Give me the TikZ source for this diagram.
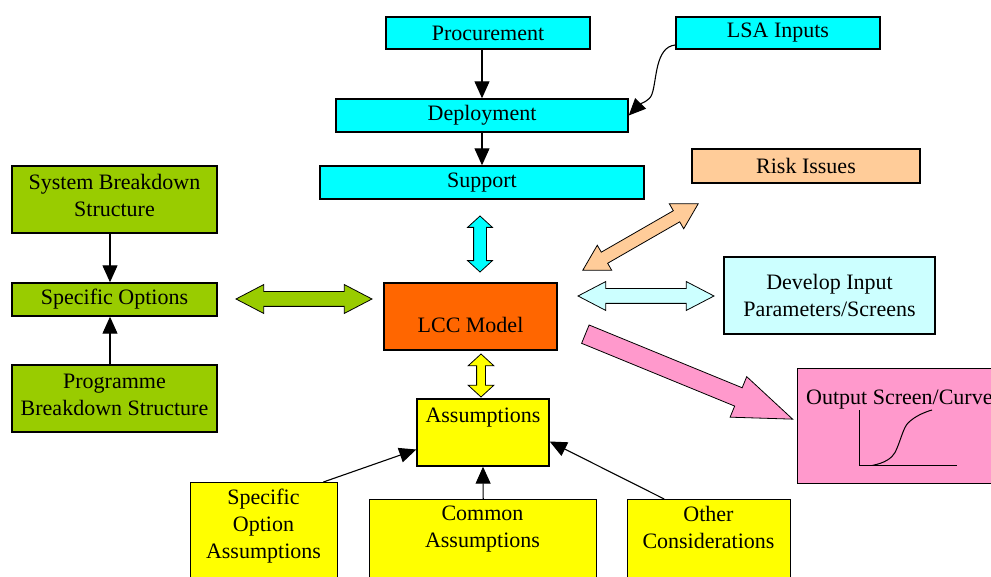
\documentclass[tikz,border=0pt]{standalone}
\usepackage{fontspec}
\setmainfont{Liberation Serif}
\usetikzlibrary{arrows.meta}
\usetikzlibrary{shapes.arrows}

\definecolor{aqua}{HTML}{00FFFF}
\definecolor{paleaqua}{HTML}{CCFFFF}
\definecolor{leaf}{HTML}{99CC00}
\definecolor{lemon}{HTML}{FFFF00}
\definecolor{peach}{HTML}{FFCC99}
\definecolor{rust}{HTML}{FF6600}
\definecolor{rose}{HTML}{FF99CC}

\begin{document}
\begin{tikzpicture}[x=1pt, y=-1pt,
            >={Triangle[length=17pt,width=15pt]},
            box/.style = {draw,line width=1.4pt,inner sep=0pt,align=center,
                font=\fontsize{22}{27}\selectfont},
            txt/.style = {inner sep=0pt,align=center,
                font=\fontsize{22}{27}\selectfont},
            link/.style = {->,line width=1.1pt},
            fatboth/.style = {double arrow,draw,line width=0.8pt,inner xsep=0pt,
                double arrow head indent=0pt},
            fatone/.style = {single arrow,draw,line width=0.8pt,inner xsep=0pt,
                single arrow head indent=0pt}]
            \useasboundingbox (0,0) rectangle (991,577);
            \node[box, fill=aqua, minimum width=204, minimum height=32] (proc) at (488,33) {Procurement};
            \node[box, fill=aqua, minimum width=204, minimum height=32] (lsa) at (778,33) {LSA Inputs};
            \node[box, fill=aqua, minimum width=292, minimum height=33] (dep) at (482,115.5) {Deployment};
            \node[box, fill=aqua, minimum width=324, minimum height=33] (sup) at (482,182.5) {Support};
            \node[box, fill=peach, minimum width=228, minimum height=34] (risk) at (806,166) {Risk Issues};
            \node[box, fill=leaf, minimum width=205, minimum height=67] (sbs) at (114.5,199.5) {};
            \node[txt] (sbstxt) at (114.5,195.5) {System Breakdown\\Structure};
            \node[box, fill=leaf, minimum width=205, minimum height=33] (spo) at (114.5,299.5) {Specific Options};
            \node[box, fill=leaf, minimum width=205, minimum height=67] (pbs) at (114.5,398.5) {};
            \node[txt] (pbstxt) at (114.5,394.5) {Programme\\Breakdown Structure};
            \node[box, fill=rust, minimum width=173, text height=50, text depth=17] (lcc) at (470.5,316.5) {LCC Model};
            \node[box, fill=paleaqua, minimum width=211, minimum height=77] (dev) at (829.5,295.5) {Develop Input\\Parameters/Screens};
            \node[box, fill=lemon, minimum width=132, text height=23, text depth=44] (ass) at (483,432.5) {Assumptions};
            \node[box, fill=rose, minimum width=320, minimum height=115, anchor=north west] (out) at (797,368) {};
            \node[txt, anchor=base west] (outtxt) at (806,404) {Output Screen/Curve};
            \node[box, fill=lemon, minimum width=147, minimum height=130, anchor=north west] (soa) at (190,482) {};
            \node[txt, anchor=north] (soatxt) at (263.5,489) {Specific\\Option\\Assumptions};
            \node[box, fill=lemon, minimum width=227, minimum height=120, anchor=north west] (com) at (369,499) {};
            \node[txt, anchor=north] (comtxt) at (482.5,506) {Common\\Assumptions};
            \node[box, fill=lemon, minimum width=163, minimum height=120, anchor=north west] (oth) at (627,499) {};
            \node[txt, anchor=north] (othtxt) at (708.5,506) {Other\\Considerations};
            \coordinate (lsaout) at ([yshift=-12pt]lsa.west);
            \draw[line width=1pt] (859,410) -- (859,465.5) -- (957,465.5);
            \draw[line width=1pt] (872,465.5) .. controls (885,463) and (892,458) .. (895,452.5)
                .. controls (900,443) and (903,428) .. (908,423)
                .. controls (915,416) and (925,412) .. (932,410);
            \node[fatboth, fill=aqua, rotate=90, minimum height=56, inner ysep=6pt,
                double arrow head extend=6pt, double arrow tip angle=95] (supfat) at (480,244) {};
            \node[fatboth, fill=leaf, minimum height=136, inner ysep=7pt,
                double arrow head extend=7pt, double arrow tip angle=55] (spofat) at (304,299) {};
            \node[fatboth, fill=lemon, rotate=90, minimum height=43, inner ysep=4pt,
                double arrow head extend=8.5pt, double arrow tip angle=95] (assfat) at (481,375.5) {};
            \node[fatboth, fill=paleaqua, minimum height=136, inner ysep=7pt,
                double arrow head extend=7pt, double arrow tip angle=55] (devfat) at (646,296) {};
            \node[fatboth, fill=peach, rotate=29.9, minimum height=133, inner ysep=6pt,
                double arrow head extend=8pt, double arrow tip angle=60] (riskfat) at (640.5,237) {};
            \node[fatone, fill=rose, rotate=-22.3, minimum height=224, inner ysep=9.5pt,
                single arrow head extend=12pt, single arrow tip angle=41, anchor=tail] (outfat) at (585,334) {};
            \path[link]
                (dep.north |- proc.south) edge (dep.north)
                (dep.south) edge (sup.north)
                ([xshift=-4.5pt]sbs.south) edge ([xshift=-4.5pt]spo.north)
                ([xshift=-4.5pt]pbs.north) edge ([xshift=-4.5pt]spo.south)
                ([xshift=-15pt]soa.north east) edge ([yshift=-17pt]ass.west)
                (com.north) edge (ass.south)
                ([xshift=-45pt]oth.north) edge ([yshift=-9pt]ass.east);
            \draw[link] (lsaout) .. controls (655,47) and (657,80) .. (652,94)
                .. controls (650,101) and (640,104) .. (dep.east);
        \end{tikzpicture}
\end{document}
